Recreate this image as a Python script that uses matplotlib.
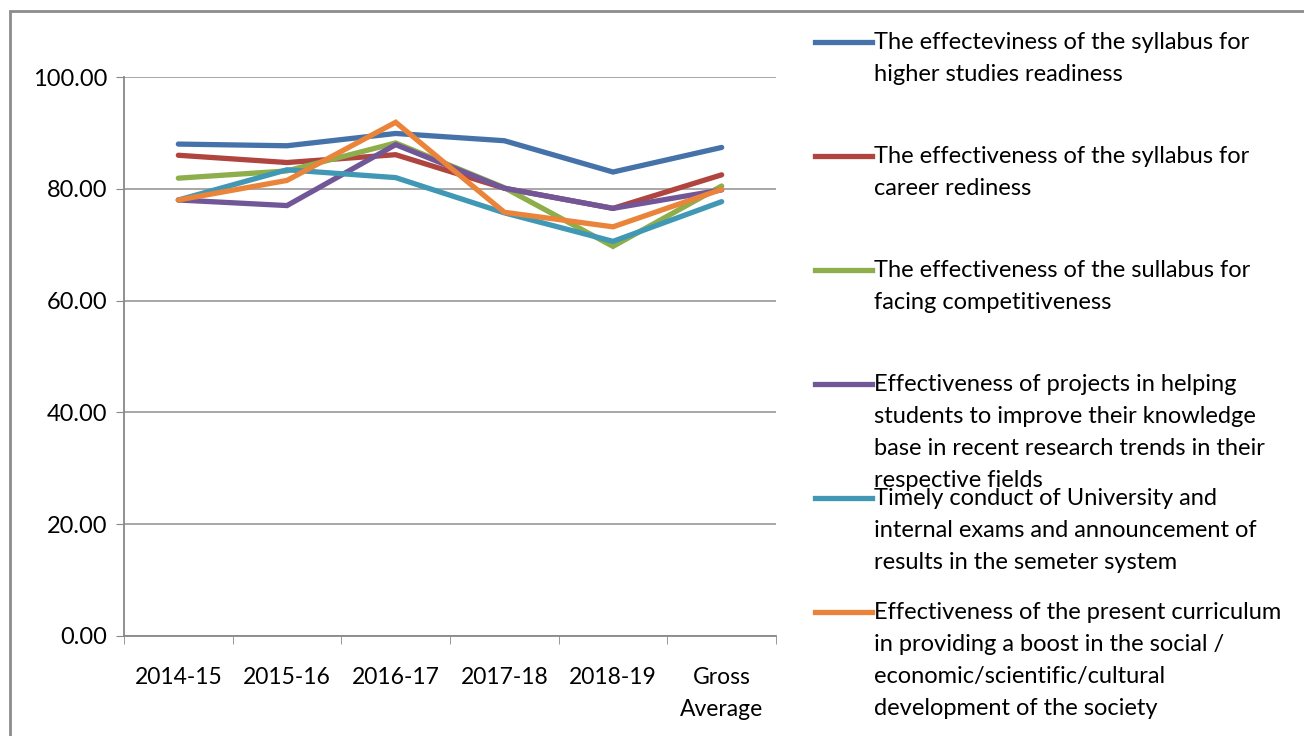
import matplotlib.pyplot as plt
from matplotlib.lines import Line2D
from matplotlib.patches import Rectangle

plt.rcParams['font.family'] = ['Lato', 'DejaVu Sans']

categories = ['2014-15', '2015-16', '2016-17', '2017-18', '2018-19', 'Gross\nAverage']

higher_studies = [88.0, 87.7, 89.9, 88.6, 83.0, 87.4]
career = [86.0, 84.7, 86.1, 80.1, 76.5, 82.5]
competitiveness = [81.9, 83.2, 88.2, 80.2, 69.7, 80.5]
projects = [78.0, 77.0, 87.9, 80.1, 76.5, 79.8]
exams = [78.0, 83.4, 82.0, 75.7, 70.6, 77.7]
curriculum = [78.0, 81.5, 91.9, 75.8, 73.2, 79.9]

labels = [
    'The effecteviness of the syllabus for\nhigher studies readiness',
    'The effectiveness of the syllabus for\ncareer rediness',
    'The effectiveness of the sullabus for\nfacing competitiveness',
    'Effectiveness of projects in helping\nstudents to improve their knowledge\n'
    'base in recent research trends in their\nrespective fields',
    'Timely conduct of University and\ninternal exams and announcement of\n'
    'results in the semeter system',
    'Effectiveness of the present curriculum\nin providing a boost in the social /\n'
    'economic/scientific/cultural\ndevelopment of the society',
]
series = [higher_studies, career, competitiveness, projects, exams, curriculum]
colors = ['#4672AA', '#B0443F', '#8DAE4B', '#715797', '#4198B4', '#E9843A']

W, H = 1304, 736
fig = plt.figure(figsize=(W / 100, H / 100), dpi=100)
ax = fig.add_axes([124 / W, 1 - 636 / H, (776 - 124) / W, (636 - 77) / H])

x = range(len(categories))
for vals, c in zip(series, colors):
    ax.plot(x, vals, color=c, lw=3.8, solid_capstyle='round', solid_joinstyle='miter')

ax.set_xlim(-0.5, len(categories) - 0.5)
ax.set_ylim(0, 100)
ax.set_yticks(range(0, 101, 20))
ax.set_yticklabels([f'{v:.2f}' for v in range(0, 101, 20)], fontsize=17)
ax.set_xticks(x)
ax.set_xticklabels(categories, fontsize=16.5, linespacing=1.65)
ax.set_xticks([i - 0.5 for i in range(len(categories) + 1)], minor=True)
ax.tick_params(axis='x', which='major', length=0, pad=22)
ax.tick_params(axis='x', which='minor', length=6, color='#888888')
ax.tick_params(axis='y', length=6, color='#888888', pad=6, direction='out')
ax.grid(axis='y', color='#a0a0a0', lw=1.3)
ax.set_axisbelow(True)
for s in ['top', 'right']:
    ax.spines[s].set_visible(False)
for s in ['left', 'bottom']:
    ax.spines[s].set_color('#888888')
    ax.spines[s].set_linewidth(1.3)

# outer chart border
fig.patches.append(Rectangle((10 / W, -0.1), 1.2, 1 - 11 / H + 0.1, transform=fig.transFigure,
                             fill=False, edgecolor='#8c8c8c', lw=2))

# legend drawn at right
for i, (lab, c) in enumerate(zip(labels, colors)):
    ly = 42 + i * 114
    fig.add_artist(Line2D([815 / W, 872 / W], [1 - ly / H, 1 - ly / H], color=c, lw=3.8,
                          transform=fig.transFigure))
    fig.text(874 / W, 1 - (ly - 10) / H, lab, fontsize=17, va='top', ha='left',
             linespacing=1.65)

fig.savefig('out.png', dpi=100)
